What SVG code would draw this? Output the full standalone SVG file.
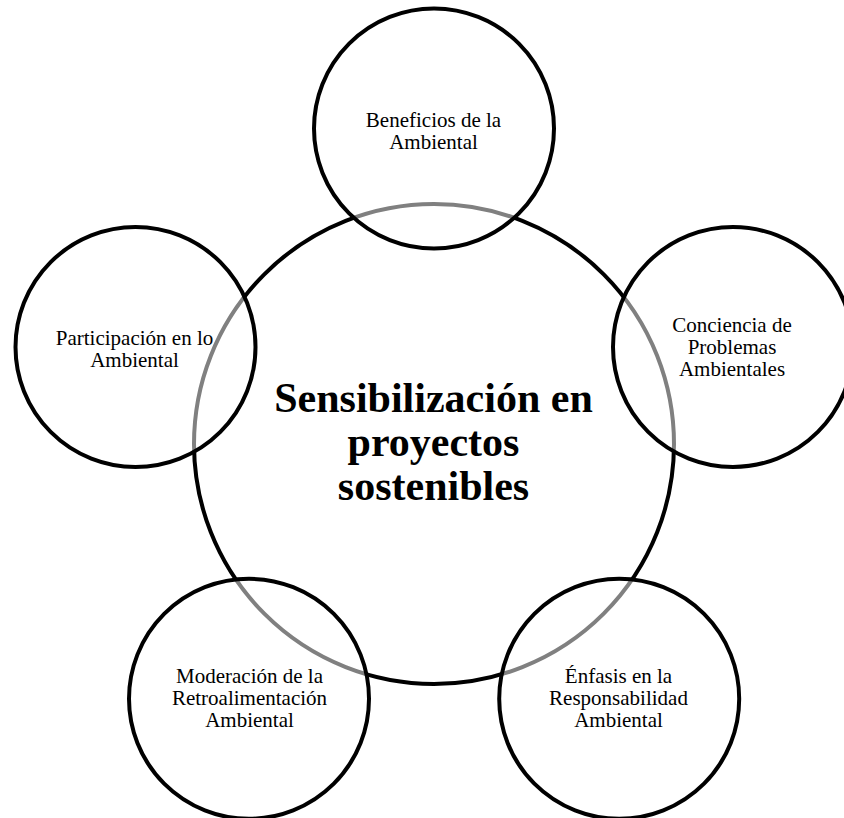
<svg xmlns="http://www.w3.org/2000/svg" width="844" height="818" viewBox="0 0 844 818">
<style>
.bg{fill:#ffffff}
.core{fill:#ffffff;stroke:#000000;stroke-width:4}
.sat{fill:#ffffff;fill-opacity:0.5;stroke:#000000;stroke-width:4}
.lbl{font-family:"Liberation Serif","Times New Roman",serif;font-size:21px;fill:#000000;text-anchor:middle}
.title{font-family:"Liberation Serif","Times New Roman",serif;font-size:42px;font-weight:bold;fill:#000000;text-anchor:middle}
</style>
<rect class="bg" x="0" y="0" width="844" height="818"/>
<g id="node-center">
<circle class="core" cx="434" cy="444" r="240"/>
<text class="title"><tspan x="433.5" y="411.7">Sensibilización en</tspan><tspan x="433.5" y="456">proyectos</tspan><tspan x="433.5" y="500">sostenibles</tspan></text>
</g>
<g id="node-beneficios">
<circle class="sat" cx="434" cy="128.5" r="120"/>
<text class="lbl"><tspan x="433.5" y="126.5">Beneficios de la</tspan><tspan x="433.5" y="148.5">Ambiental</tspan></text>
</g>
<g id="node-conciencia">
<circle class="sat" cx="733" cy="347" r="120"/>
<text class="lbl"><tspan x="732" y="332">Conciencia de</tspan><tspan x="732" y="354">Problemas</tspan><tspan x="732" y="376">Ambientales</tspan></text>
</g>
<g id="node-enfasis">
<circle class="sat" cx="619.2" cy="698.8" r="120"/>
<text class="lbl"><tspan x="618.5" y="683">Énfasis en la</tspan><tspan x="618.5" y="705">Responsabilidad</tspan><tspan x="618.5" y="727">Ambiental</tspan></text>
</g>
<g id="node-moderacion">
<circle class="sat" cx="249" cy="698.8" r="120"/>
<text class="lbl"><tspan x="249.5" y="683">Moderación de la</tspan><tspan x="249.5" y="705">Retroalimentación</tspan><tspan x="249.5" y="727">Ambiental</tspan></text>
</g>
<g id="node-participacion">
<circle class="sat" cx="135.5" cy="347" r="120"/>
<text class="lbl"><tspan x="134.5" y="344.5">Participación en lo</tspan><tspan x="134.5" y="366.5">Ambiental</tspan></text>
</g>
<g id="connectors"></g>
</svg>
